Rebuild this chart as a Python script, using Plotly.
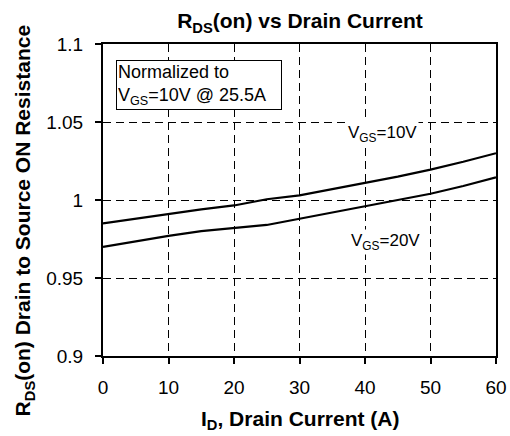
import plotly.graph_objects as go

current = [0, 5, 10, 15, 20, 25, 30, 35, 40, 45, 50, 55, 60]
rds_vgs10 = [0.985, 0.988, 0.991, 0.994, 0.9965, 1.0005, 1.003, 1.007, 1.011, 1.015, 1.0195, 1.0245, 1.030]
rds_vgs20 = [0.970, 0.9735, 0.977, 0.980, 0.982, 0.984, 0.988, 0.992, 0.996, 1.000, 1.004, 1.009, 1.0145]
x_ticks = [0, 10, 20, 30, 40, 50, 60]
y_ticks = [0.9, 0.95, 1.0, 1.05, 1.1]
y_tick_labels = ["0.9", "0.95", "1", "1.05", "1.1"]

F = "Liberation Sans, Arial, sans-serif"

fig = go.Figure()
fig.add_trace(go.Scatter(x=current, y=rds_vgs10, mode="lines",
                         line=dict(color="black", width=2.2), showlegend=False))
fig.add_trace(go.Scatter(x=current, y=rds_vgs20, mode="lines",
                         line=dict(color="black", width=2.2), showlegend=False))

fig.update_layout(
    width=519, height=436,
    margin=dict(l=103, r=12, t=44, b=80),
    paper_bgcolor="white", plot_bgcolor="white",
    font=dict(family=F, color="black", size=19),
    title=dict(text="<b>R<sub>DS</sub>(on) vs Drain Current</b>", x=0.578, xanchor="center",
               y=0.952, yanchor="middle", font=dict(size=21, family=F)),
)
fig.update_xaxes(range=[0, 60], tickvals=x_ticks, showgrid=True, gridcolor="black",
                 griddash="8px,5px", gridwidth=1, showline=True, linecolor="black", linewidth=2,
                 mirror=True, ticks="outside", ticklen=6, tickcolor="black", tickwidth=1.5,
                 zeroline=False, tickfont=dict(size=19), ticklabelstandoff=7)
fig.update_yaxes(range=[0.9, 1.1], tickvals=y_ticks, ticktext=y_tick_labels, showgrid=True,
                 gridcolor="black", griddash="8px,5px", gridwidth=1, showline=True, linecolor="black",
                 linewidth=2, mirror=True, ticks="outside", ticklen=6, tickcolor="black", tickwidth=1.5,
                 zeroline=False, tickfont=dict(size=19), ticklabelstandoff=8)

fig.add_annotation(xref="paper", yref="paper", x=0.5, y=-0.205, showarrow=False,
                   text="<b>I<sub>D</sub>, Drain Current (A)</b>", font=dict(size=21),
                   xanchor="center", yanchor="middle")
fig.add_annotation(xref="paper", yref="paper", x=-0.2015, y=0.434, showarrow=False, textangle=-90,
                   text="<b>R<sub>DS</sub>(on) Drain to Source ON Resistance</b>", font=dict(size=21),
                   xanchor="center", yanchor="middle")

fig.add_annotation(x=1.96, y=1.0897, xanchor="left", yanchor="top", showarrow=False, align="left",
                   text="Normalized to<br>V<sub>GS</sub>=10V @ 25.5A", font=dict(size=18),
                   width=162, bordercolor="black", borderwidth=1, borderpad=1, bgcolor="white")
fig.add_annotation(x=42.6, y=1.0423, showarrow=False, text="V<sub>GS</sub>=10V", font=dict(size=17),
                   bgcolor="white")
fig.add_annotation(x=43.2, y=0.9733, showarrow=False, text="V<sub>GS</sub>=20V", font=dict(size=17),
                   bgcolor="white")

# remove the default 8px page margin so the figure sits at the window's top-left corner
fig.write_html("out.html", config={"displayModeBar": False},
               post_script="document.body.style.margin='0';document.body.style.overflow='hidden';")
